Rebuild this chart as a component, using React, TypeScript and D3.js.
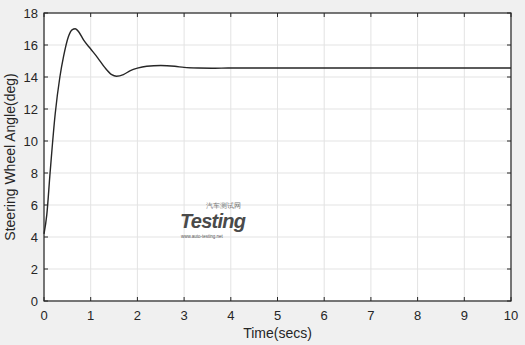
import React from "react";
import * as d3 from "d3";

// time (s) and steering wheel angle (deg)
const times = [0, 0.06, 0.13, 0.24, 0.34, 0.42, 0.52, 0.6, 0.67, 0.75, 0.85, 1.0, 1.15, 1.3, 1.45, 1.55, 1.7, 1.85, 2.0, 2.2, 2.5, 2.8, 3.0, 3.3, 3.6, 4.0, 5, 6, 7, 8, 9, 10];
const angles = [4.2, 5.4, 8.0, 11.7, 14.0, 15.3, 16.5, 16.95, 17.02, 16.8, 16.3, 15.75, 15.2, 14.6, 14.15, 14.05, 14.15, 14.4, 14.55, 14.67, 14.72, 14.67, 14.6, 14.56, 14.55, 14.56, 14.56, 14.56, 14.56, 14.56, 14.56, 14.56];
const xTicks = [0, 1, 2, 3, 4, 5, 6, 7, 8, 9, 10];
const yTicks = [0, 2, 4, 6, 8, 10, 12, 14, 16, 18];

const W = 525;
const H = 345;
const m = { left: 44, right: 14, top: 13, bottom: 44 };

export default function App() {
  const x = d3.scaleLinear().domain([0, 10]).range([m.left, W - m.right]);
  const y = d3.scaleLinear().domain([0, 18]).range([H - m.bottom, m.top]);
  const pts = times.map((t, i) => [t, angles[i]] as [number, number]);
  const line = d3
    .line<[number, number]>()
    .x((d) => x(d[0]))
    .y((d) => y(d[1]))
    .curve(d3.curveMonotoneX);

  const font = "'Liberation Sans', Arial, sans-serif";
  const x0 = x(0), x1 = x(10), y0 = y(0), y1 = y(18);

  return (
    <div style={{ position: "fixed", left: 0, top: 0 }}>
      <svg width={W} height={H} style={{ display: "block" }}>
        <rect width={W} height={H} fill="#f0f0f0" />
        <rect x={x0} y={y1} width={x1 - x0} height={y0 - y1} fill="#ffffff" />
        {/* grid */}
        {xTicks.map((t) => (
          <line key={"gx" + t} x1={x(t)} x2={x(t)} y1={y1} y2={y0} stroke="#e3e3e3" strokeWidth={1} />
        ))}
        {yTicks.map((t) => (
          <line key={"gy" + t} x1={x0} x2={x1} y1={y(t)} y2={y(t)} stroke="#e3e3e3" strokeWidth={1} />
        ))}
        {/* watermark */}
        <g fontFamily={font}>
          <text x={223} y={208} fontSize={6.5} textAnchor="middle" fill="#777">汽车测试网</text>
          <text x={180} y={228} fontSize={20} fontWeight="bold" fontStyle="italic" fill="#4a4a4a" textLength={66}>Testing</text>
          <text x={181} y={238} fontSize={4.5} fill="#555">www.auto-testing.net</text>
        </g>
        {/* curve */}
        <path d={line(pts) ?? ""} fill="none" stroke="#262626" strokeWidth={1.4} />
        {/* ticks (inward, bottom & top) */}
        {xTicks.map((t) => (
          <g key={"tx" + t}>
            <line x1={x(t)} x2={x(t)} y1={y0} y2={y0 - 4} stroke="#262626" />
            <line x1={x(t)} x2={x(t)} y1={y1} y2={y1 + 4} stroke="#262626" />
            <text x={x(t)} y={y0 + 19} textAnchor="middle" fontSize={13} fontFamily={font} fill="#262626">{t}</text>
          </g>
        ))}
        {yTicks.map((t) => (
          <g key={"ty" + t}>
            <line x1={x0} x2={x0 + 4} y1={y(t)} y2={y(t)} stroke="#262626" />
            <line x1={x1} x2={x1 - 4} y1={y(t)} y2={y(t)} stroke="#262626" />
            <text x={x0 - 6} y={y(t) + 5} textAnchor="end" fontSize={13} fontFamily={font} fill="#262626">{t}</text>
          </g>
        ))}
        {/* box */}
        <rect x={x0} y={y1} width={x1 - x0} height={y0 - y1} fill="none" stroke="#262626" strokeWidth={1.2} />
        <text x={(x0 + x1) / 2} y={338} textAnchor="middle" fontSize={14} fontFamily={font} fill="#262626">Time(secs)</text>
        <text
          transform={`translate(15, ${(y0 + y1) / 2}) rotate(-90)`}
          textAnchor="middle"
          fontSize={14}
          fontFamily={font}
          fill="#262626"
        >
          Steering Wheel Angle(deg)
        </text>
      </svg>
    </div>
  );
}
